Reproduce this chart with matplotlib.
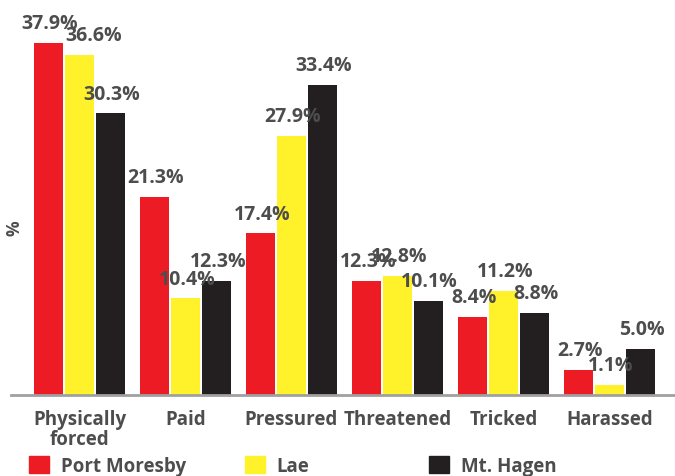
import matplotlib
matplotlib.use("Agg")
import matplotlib.pyplot as plt
import numpy as np
from matplotlib.patches import Patch

plt.rcParams['font.family'] = ['Open Sans', 'DejaVu Sans']

# data
categories = ['Physically\nforced', 'Paid', 'Pressured', 'Threatened', 'Tricked', 'Harassed']
series_names = ['Port Moresby', 'Lae', 'Mt. Hagen']
port_moresby = [37.9, 21.3, 17.4, 12.3, 8.4, 2.7]
lae = [36.6, 10.4, 27.9, 12.8, 11.2, 1.1]
mt_hagen = [30.3, 12.3, 33.4, 10.1, 8.8, 5.0]
colors = ['#ED1C24', '#FFF22A', '#231F20']

txt = '#4D4D4D'

fig = plt.figure(figsize=(6.75, 4.77), dpi=100)
ax = fig.add_axes([11/675, (477-396)/477, (675-11)/675, 396/477])

x = np.arange(len(categories))
bw = 0.274
step = 0.292
for i, (vals, col) in enumerate(zip([port_moresby, lae, mt_hagen], colors)):
    xs = x + (i - 1) * step
    ax.bar(xs, vals, width=bw, color=col, zorder=2)
    for j, (xi, v) in enumerate(zip(xs, vals)):
        dx = 10 if (i == 1 and j == 0) else 1  # first yellow label sits off to the right
        ax.annotate(f'{v:.1f}%', (xi, v), xytext=(dx, 7), textcoords='offset points',
                    ha='center', va='bottom', fontsize=14, fontweight='bold', color=txt)

ax.set_xlim(-0.646, 5.62)
ax.set_ylim(0, 42.6)
ax.set_xticks(x)
ax.set_xticklabels(categories, fontsize=13.5, fontweight='bold', color=txt, linespacing=1.0)
ax.tick_params(axis='x', length=0, pad=10)
ax.set_yticks([])
for s in ['top', 'right', 'left']:
    ax.spines[s].set_visible(False)
ax.spines['bottom'].set_color('#A0A0A0')
ax.spines['bottom'].set_linewidth(2)
fig.text(15/675, 1 - 228/477, '%', rotation=90, ha='center', va='center',
         fontsize=12.5, fontweight='bold', color=txt)

# legend, three separate entries spaced like the original
leg_x = [12, 228, 412]
for name, col, lx in zip(series_names, colors, leg_x):
    lg = fig.legend(handles=[Patch(color=col)], labels=[name], loc='center left',
                    bbox_to_anchor=(lx/675, 1 - 467/477), frameon=False,
                    handlelength=1.05, handleheight=0.95, handletextpad=0.65,
                    prop={'size': 13.5, 'weight': 'bold'})
    for t in lg.get_texts():
        t.set_color(txt)

fig.savefig('out.png', dpi=100)
